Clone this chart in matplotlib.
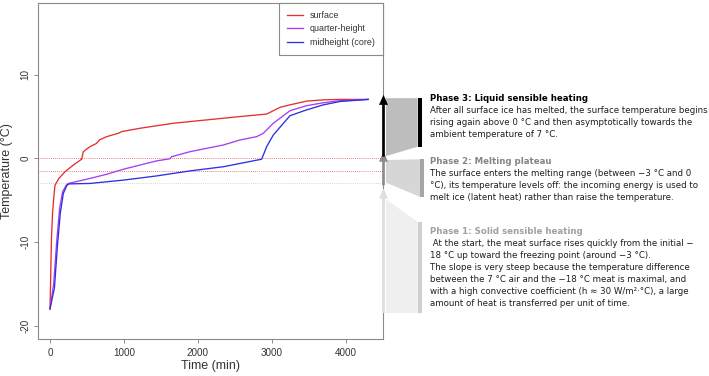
import matplotlib
matplotlib.use('Agg')
import matplotlib.pyplot as plt
from matplotlib.patches import FancyArrow, Polygon, Rectangle

# --- data: time (min), temperature (degC) ---
t_surface = [0, 10, 20, 35, 50, 68, 120, 203, 315, 428, 450, 541, 631, 667, 766, 923, 968,
             1216, 1441, 1667, 2117, 2568, 2928, 3018, 3108, 3243, 3468, 3700, 3919, 4300]
T_surface = [-18, -14, -9.5, -6.5, -4.8, -3.2, -2.4, -1.6, -0.8, -0.1, 0.8, 1.4, 1.8, 2.2, 2.6, 3.0, 3.2,
             3.6, 3.9, 4.2, 4.6, 5.0, 5.3, 5.7, 6.1, 6.4, 6.85, 7.0, 7.05, 7.05]

t_quarter = [0, 50, 90, 130, 170, 220, 248, 541, 766, 991, 1216, 1441, 1620, 1644, 1892, 2117,
             2342, 2568, 2793, 2883, 3018, 3243, 3468, 3693, 3919, 4300]
T_quarter = [-18, -15, -10, -6, -4, -3.2, -3.0, -2.4, -1.9, -1.3, -0.8, -0.3, -0.05, 0.2, 0.8, 1.2,
             1.6, 2.2, 2.6, 3.0, 4.2, 5.7, 6.3, 6.65, 6.9, 7.05]

t_core = [0, 60, 100, 140, 180, 230, 260, 541, 991, 1441, 1892, 2342, 2860, 2883, 2928, 3018,
          3243, 3468, 3693, 3919, 4300]
T_core = [-18, -15.5, -10.5, -6.5, -4.2, -3.2, -3.05, -3.0, -2.6, -2.1, -1.5, -1.0, -0.1, 0.4, 1.4, 2.8,
          5.1, 5.8, 6.4, 6.8, 7.05]

series_labels = ['surface', 'quarter-height', 'midheight (core)']
series_colors = ['#e3302f', '#a53ff0', '#2f2fe0']

ref_lines = [0, -1.5, -3]
ref_colors = ['#e85050', '#e85050', '#c8c8c8']

x_ticks = [0, 1000, 2000, 3000, 4000]
y_ticks = [-20, -10, 0, 10]

# phases: arrow range (degC), trapezoid left/right edges (degC), heading y (degC)
phase_arrow = [(-18.5, -3.6), (-3.2, 0.8), (0.2, 7.6)]
phase_left = [(-4.9, -18.5), (-0.2, -2.9), (7.2, 0.27)]
phase_right = [(-7.6, -18.5), (-0.1, -4.6), (7.2, 1.4)]
phase_head_y = [-8.78, -0.41, 7.18]
phase_titles = ['Phase 1: Solid sensible heating',
                'Phase 2: Melting plateau',
                'Phase 3: Liquid sensible heating']
phase_body = [
    [' At the start, the meat surface rises quickly from the initial \u2212',
     '18 \u00b0C up toward the freezing point (around \u22123 \u00b0C).',
     'The slope is very steep because the temperature difference',
     'between the 7 \u00b0C air and the \u221218 \u00b0C meat is maximal, and',
     'with a high convective coefficient (h \u2248 30 W/m\u00b2\u00b7\u00b0C), a large',
     'amount of heat is transferred per unit of time.'],
    ['The surface enters the melting range (between \u22123 \u00b0C and 0',
     '\u00b0C), its temperature levels off: the incoming energy is used to',
     'melt ice (latent heat) rather than raise the temperature.'],
    ['After all surface ice has melted, the surface temperature begins',
     'rising again above 0 \u00b0C and then asymptotically towards the',
     'ambient temperature of 7 \u00b0C.'],
]
arrow_colors = ['#dedede', '#8c8c8c', '#000000']
trap_colors = ['#efefef', '#d6d6d6', '#bdbdbd']
bar_colors = ['#cfcfcf', '#a6a6a6', '#000000']
title_colors = ['#a0a0a0', '#858585', '#000000']

plt.rcParams['axes.unicode_minus'] = False
W, H = 709, 376
fig = plt.figure(figsize=(W / 100, H / 100), dpi=100)

ax = fig.add_axes([38 / W, 37 / H, 345 / W, 336 / H])
for y, c in zip(ref_lines, ref_colors):
    ax.axhline(y, color=c, ls=(0, (1, 1.5)), lw=0.6, zorder=1)
for t, T, lab, c in zip([t_surface, t_quarter, t_core], [T_surface, T_quarter, T_core],
                        series_labels, series_colors):
    ax.plot(t, T, color=c, lw=0.95, label=lab, zorder=2)

ax.set_xlim(-162, 4500)
ax.set_ylim(-21.6, 18.58)
ax.set_xticks(x_ticks)
ax.set_yticks(y_ticks)
ax.set_xticklabels([str(v) for v in x_ticks])
ax.set_yticklabels([str(v) for v in y_ticks], rotation=90, va='center')
for sp in ax.spines.values():
    sp.set_color('#8a8a8a')
    sp.set_linewidth(0.8)
ax.tick_params(length=3, width=0.7, color='#8a8a8a', labelcolor='#333333', labelsize=7.1)
ax.tick_params(axis='x', pad=3.2)
ax.tick_params(axis='y', pad=2.6)
for lbl in ax.get_xticklabels() + ax.get_yticklabels():
    lbl.set_family('Liberation Sans')
ax.set_xlabel('Time (min)', fontsize=9, family='Liberation Sans', color='#333333')
ax.set_ylabel('Temperature (\u00b0C)', fontsize=9, family='Liberation Sans', color='#333333')
ax.xaxis.set_label_coords(0.5, -0.062)
ax.yaxis.set_label_coords(-0.072, 0.5)

leg = ax.legend(loc='upper right', bbox_to_anchor=(1, 1), borderaxespad=0, fancybox=False,
                framealpha=1, edgecolor='#8a8a8a', prop={'family': 'Liberation Sans', 'size': 6.4},
                handlelength=1.8, handletextpad=0.8, borderpad=0.9, labelspacing=0.5)
leg.get_frame().set_linewidth(0.8)
for txt in leg.get_texts():
    txt.set_color('#333333')

# --- annotation panel on the right ---
ax2 = fig.add_axes([383 / W, 37 / H, 326 / W, 336 / H])
ax2.set_xlim(0, 326)
ax2.set_ylim(ax.get_ylim())
ax2.axis('off')

bar_x = [(34.7, 39.3), (37.0, 41.3), (34.7, 38.7)]
for k in range(3):
    xr = bar_x[k][0]
    ax2.add_patch(Polygon([(3, phase_left[k][0]), (xr, phase_right[k][0]),
                           (xr, phase_right[k][1]), (3, phase_left[k][1])],
                          closed=True, fc=trap_colors[k], ec='none', clip_on=False, zorder=1))
    ax2.add_patch(Rectangle((bar_x[k][0], phase_right[k][1]), bar_x[k][1] - bar_x[k][0],
                            phase_right[k][0] - phase_right[k][1], fc=bar_colors[k], ec='none',
                            clip_on=False, zorder=2))
for k in range(3):
    y0, y1 = phase_arrow[k]
    ax2.add_patch(FancyArrow(0.5, y0, 0, y1 - y0, width=2.7, head_width=9, head_length=1.2,
                             length_includes_head=True, fc=arrow_colors[k], ec='none',
                             clip_on=False, zorder=3 + k))

for k in range(3):
    ax2.text(47, phase_head_y[k], phase_titles[k], fontsize=6.2, fontweight='bold',
             color=title_colors[k], va='center', family='DejaVu Sans')
    for i, line in enumerate(phase_body[k]):
        ax2.annotate(line, xy=(47, phase_head_y[k]), xytext=(0, -(i + 1) * 12.0 * 0.72),
                     textcoords='offset points', va='center', fontsize=6.2,
                     color='#1e1e1e', family='DejaVu Sans')

fig.savefig('out.png', dpi=100)
